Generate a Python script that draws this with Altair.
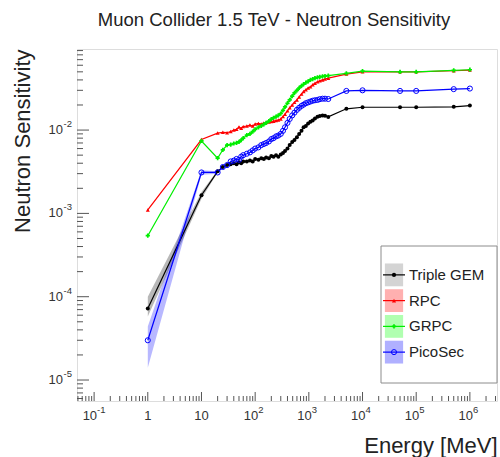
import altair as alt
import pandas as pd

# ---------------- data ----------------
SERIES = ["Triple GEM", "RPC", "GRPC", "PicoSec"]
COLORS = ["#000000", "#ff0000", "#00ee00", "#0000ff"]
SWATCH = ["#d4d4d4", "#ffb0b0", "#b0ffb0", "#b0b0ff"]

ENERGY = [1, 10, 20, 25, 30, 35, 40, 45, 50, 55,
          60, 70, 80, 90, 100, 115, 130, 145, 160, 180,
          200, 220, 245, 270, 300, 330, 360, 400, 440, 490,
          540, 600, 660, 730, 800, 880, 970, 1070, 1180, 1300,
          1450, 1600, 1800, 2000, 2300, 5000, 1e4, 5e4, 1e5, 5e5,
          1e6]

GEM = [7.2e-5, 1.65e-3, 3.2e-3, 3.6e-3, 3.8e-3, 3.9e-3, 4.0e-3, 3.9e-3, 4.1e-3, 4.0e-3,
       4.2e-3, 4.2e-3, 4.3e-3, 4.2e-3, 4.5e-3, 4.4e-3, 4.6e-3, 4.5e-3, 4.7e-3, 4.6e-3,
       4.9e-3, 4.8e-3, 5.0e-3, 4.8e-3, 5.1e-3, 5.3e-3, 5.6e-3, 6.0e-3, 6.6e-3, 7.2e-3,
       7.6e-3, 8.2e-3, 9.0e-3, 9.8e-3, 1.08e-2, 1.12e-2, 1.2e-2, 1.26e-2, 1.3e-2, 1.38e-2,
       1.45e-2, 1.48e-2, 1.5e-2, 1.49e-2, 1.44e-2, 1.8e-2, 1.88e-2, 1.88e-2, 1.88e-2, 1.9e-2,
       1.97e-2]

RPC = [1.1e-3, 7.7e-3, 9.2e-3, 9.4e-3, 9.3e-3, 9.6e-3, 1.0e-2, 1.02e-2, 1.09e-2, 1.05e-2,
       1.1e-2, 1.12e-2, 1.15e-2, 1.12e-2, 1.18e-2, 1.2e-2, 1.18e-2, 1.22e-2, 1.23e-2, 1.25e-2,
       1.27e-2, 1.28e-2, 1.3e-2, 1.32e-2, 1.36e-2, 1.45e-2, 1.55e-2, 1.7e-2, 1.85e-2, 2.0e-2,
       2.15e-2, 2.3e-2, 2.5e-2, 2.7e-2, 2.9e-2, 3.05e-2, 3.2e-2, 3.3e-2, 3.5e-2, 3.65e-2,
       3.8e-2, 3.9e-2, 4.0e-2, 4.1e-2, 4.2e-2, 4.7e-2, 5.0e-2, 5.0e-2, 5.0e-2, 5.15e-2,
       5.25e-2]

GRPC = [5.4e-4, 7.4e-3, 4.6e-3, 5.8e-3, 6.6e-3, 6.7e-3, 6.9e-3, 7.0e-3, 7.2e-3, 7.6e-3,
        8.0e-3, 8.7e-3, 9.0e-3, 9.6e-3, 1.02e-2, 1.08e-2, 1.12e-2, 1.17e-2, 1.22e-2, 1.28e-2,
        1.35e-2, 1.4e-2, 1.45e-2, 1.5e-2, 1.58e-2, 1.72e-2, 1.9e-2, 2.1e-2, 2.3e-2, 2.55e-2,
        2.8e-2, 3.0e-2, 3.2e-2, 3.4e-2, 3.55e-2, 3.7e-2, 3.85e-2, 4.0e-2, 4.1e-2, 4.2e-2,
        4.3e-2, 4.35e-2, 4.4e-2, 4.45e-2, 4.5e-2, 4.8e-2, 5.1e-2, 5.0e-2, 5.0e-2, 5.2e-2,
        5.3e-2]

PICO = [3.0e-5, 3.1e-3, 3.1e-3, 3.6e-3, 3.8e-3, 4.2e-3, 4.3e-3, 4.5e-3, 4.4e-3, 4.8e-3,
        5.0e-3, 5.2e-3, 5.4e-3, 5.7e-3, 6.0e-3, 6.2e-3, 6.6e-3, 6.8e-3, 7.0e-3, 7.3e-3,
        7.8e-3, 8.0e-3, 8.4e-3, 8.6e-3, 9.0e-3, 9.8e-3, 1.08e-2, 1.22e-2, 1.36e-2, 1.5e-2,
        1.62e-2, 1.75e-2, 1.85e-2, 1.95e-2, 2.02e-2, 2.1e-2, 2.15e-2, 2.2e-2, 2.25e-2, 2.28e-2,
        2.3e-2, 2.35e-2, 2.38e-2, 2.38e-2, 2.36e-2, 2.95e-2, 3.0e-2, 2.95e-2, 2.95e-2, 3.1e-2,
        3.15e-2]

# uncertainty bands (visible only at low energy)
BAND_E = [1, 10, 20]
GEM_LO = [5.8e-5, 1.5e-3, 3.1e-3]
GEM_HI = [1.0e-4, 1.8e-3, 3.3e-3]
PICO_LO = [1.4e-5, 2.9e-3, 3.0e-3]
PICO_HI = [4.4e-5, 3.3e-3, 3.2e-3]

X_TICKS = [0.1, 1, 10, 100, 1e3, 1e4, 1e5, 1e6]
X_BASE = ["10", "1", "10", "10", "10", "10", "10", "10"]
X_EXP = ["-1", "", "", "2", "3", "4", "5", "6"]
Y_TICKS = [1e-5, 1e-4, 1e-3, 1e-2]
Y_BASE = ["10", "10", "10", "10"]
Y_EXP = ["-5", "-4", "-3", "-2"]
X_DOMAIN = [0.048, 3.2e6]
Y_DOMAIN = [5.6e-6, 0.094]

# ---------------- tables ----------------
rows = []
for name, vals in zip(SERIES, [GEM, RPC, GRPC, PICO]):
    for e, s in zip(ENERGY, vals):
        rows.append({"series": name, "E": e, "S": s})
df = pd.DataFrame(rows)

band_rows = []
for name, lo, hi in [("Triple GEM", GEM_LO, GEM_HI), ("PicoSec", PICO_LO, PICO_HI)]:
    for e, l, h in zip(BAND_E, lo, hi):
        band_rows.append({"series": name, "E": e, "lo": l, "hi": h})
band = pd.DataFrame(band_rows)

minor_x = [m * 10 ** d for d in range(-2, 7) for m in range(2, 10)
           if X_DOMAIN[0] <= m * 10 ** d <= X_DOMAIN[1]]
minor_y = [m * 10 ** d for d in range(-6, -1) for m in range(2, 10)
           if Y_DOMAIN[0] <= m * 10 ** d <= Y_DOMAIN[1]]

W, H = 420, 352
FONT = "Liberation Sans"
LAB = "#333333"

xs = alt.Scale(type="log", domain=X_DOMAIN, nice=False)
ys = alt.Scale(type="log", domain=Y_DOMAIN, nice=False)
cs = alt.Scale(domain=SERIES, range=COLORS)

x_axis = alt.Axis(values=X_TICKS, ticks=False, domain=False, grid=False, labels=False,
                  title="Energy [MeV]", titleFont=FONT, titleFontSize=22,
                  titleFontWeight="normal", titleColor="#222",
                  titleX=W, titleY=51, titleAlign="right", titleBaseline="alphabetic")
y_axis = alt.Axis(values=Y_TICKS, ticks=False, domain=False, grid=False, labels=False,
                  title="Neutron Sensitivity", titleFont=FONT, titleFontSize=22,
                  titleFontWeight="normal", titleColor="#222", titleAngle=270,
                  titleX=-55, titleY=0, titleAlign="right", titleBaseline="middle")

base = alt.Chart(df)

bands = alt.Chart(band).mark_area(opacity=0.28, interpolate="linear").encode(
    x=alt.X("E:Q", scale=xs, axis=x_axis),
    y=alt.Y("lo:Q", scale=ys, axis=y_axis),
    y2="hi:Q",
    fill=alt.Fill("series:N", scale=cs, legend=None),
    detail="series:N",
)

lines = base.mark_line(strokeWidth=1.2).encode(
    x=alt.X("E:Q", scale=xs),
    y=alt.Y("S:Q", scale=ys),
    color=alt.Color("series:N", scale=cs, legend=None),
    detail="series:N",
    order="E:Q",
)

def pts(name, shape, color, filled, size):
    return base.transform_filter(alt.datum.series == name).mark_point(
        shape=shape, filled=filled, size=size, color=color, strokeWidth=1, opacity=1
    ).encode(x=alt.X("E:Q", scale=xs), y=alt.Y("S:Q", scale=ys))

points = [
    pts("Triple GEM", "circle", "#000000", True, 16),
    pts("RPC", "triangle-up", "#ff0000", True, 16),
    pts("GRPC", "cross", "#00ee00", True, 18),
    pts("PicoSec", "circle", "#0000ff", False, 26),
]

# inward ticks (ROOT style)
xmaj = alt.Chart(pd.DataFrame({"v": X_TICKS})).mark_rule(color="#555", strokeWidth=1).encode(
    x=alt.X("v:Q", scale=xs), y=alt.value(H), y2=alt.value(H - 9))
xmin = alt.Chart(pd.DataFrame({"v": minor_x})).mark_rule(color="#555", strokeWidth=1).encode(
    x=alt.X("v:Q", scale=xs), y=alt.value(H), y2=alt.value(H - 5))
ymaj = alt.Chart(pd.DataFrame({"v": Y_TICKS})).mark_rule(color="#555", strokeWidth=1).encode(
    y=alt.Y("v:Q", scale=ys), x=alt.value(0), x2=alt.value(12))
ymin = alt.Chart(pd.DataFrame({"v": minor_y})).mark_rule(color="#555", strokeWidth=1).encode(
    y=alt.Y("v:Q", scale=ys), x=alt.value(0), x2=alt.value(6))

# tick labels with real superscripts
xl = pd.DataFrame({"v": X_TICKS, "base": X_BASE, "exp": X_EXP})
yl = pd.DataFrame({"v": Y_TICKS, "base": Y_BASE, "exp": Y_EXP})
xl_plain = alt.Chart(xl).transform_filter("datum.exp == ''").mark_text(
    align="center", baseline="middle", font=FONT, fontSize=13, color=LAB).encode(
    x=alt.X("v:Q", scale=xs), y=alt.value(H + 15), text="base:N")
xl_base = alt.Chart(xl).transform_filter("datum.exp != ''").mark_text(
    align="right", baseline="middle", font=FONT, fontSize=13, color=LAB, dx=3).encode(
    x=alt.X("v:Q", scale=xs), y=alt.value(H + 15), text="base:N")
xl_exp = alt.Chart(xl).transform_filter("datum.exp != ''").mark_text(
    align="left", baseline="middle", font=FONT, fontSize=9.5, color=LAB, dx=3, dy=-6).encode(
    x=alt.X("v:Q", scale=xs), y=alt.value(H + 15), text="exp:N")
yl_base = alt.Chart(yl).mark_text(
    align="right", baseline="middle", font=FONT, fontSize=13, color=LAB).encode(
    y=alt.Y("v:Q", scale=ys), x=alt.value(-14), text="base:N")
yl_exp = alt.Chart(yl).mark_text(
    align="right", baseline="middle", font=FONT, fontSize=9.5, color=LAB, dy=-6).encode(
    y=alt.Y("v:Q", scale=ys), x=alt.value(-5), text="exp:N")

data_layer = alt.layer(bands, lines, *points, xmaj, xmin, ymaj, ymin,
                       xl_plain, xl_base, xl_exp, yl_base, yl_exp)

# ---------------- legend ----------------
leg = pd.DataFrame({"series": SERIES, "swatch": SWATCH, "color": COLORS})
ly = alt.Y("series:N", scale=alt.Scale(domain=SERIES, range=[213, 316]), axis=None)

box = alt.Chart(pd.DataFrame({"a": [0]})).mark_rect(
    fill="white", stroke="#8c8c8c", strokeWidth=1).encode(
    x=alt.value(304), x2=alt.value(420), y=alt.value(197), y2=alt.value(334))
sw = alt.Chart(leg).mark_point(shape="M-0.8,-1H0.8V1H-0.8Z", filled=True, size=520, opacity=1).encode(
    x=alt.value(317), y=ly, fill=alt.Fill("swatch:N", scale=None))
seg = alt.Chart(leg).mark_rule(strokeWidth=1.2).encode(
    x=alt.value(306), x2=alt.value(328), y=ly, color=alt.Color("color:N", scale=None))
lm_filled = alt.Chart(leg).transform_filter(alt.datum.series != "PicoSec").mark_point(
    filled=True, size=18, opacity=1).encode(
    x=alt.value(317), y=ly, color=alt.Color("color:N", scale=None),
    shape=alt.Shape("series:N", scale=alt.Scale(domain=SERIES[:3], range=["circle", "triangle-up", "cross"]), legend=None))
lm_open = alt.Chart(leg).transform_filter(alt.datum.series == "PicoSec").mark_point(
    filled=False, size=26, opacity=1, shape="circle", strokeWidth=1).encode(
    x=alt.value(317), y=ly, color=alt.Color("color:N", scale=None))
txt = alt.Chart(leg).mark_text(align="left", baseline="middle", font=FONT, fontSize=15, color="#222").encode(
    x=alt.value(332), y=ly, text="series:N")

legend_layer = alt.layer(box, sw, seg, lm_filled, lm_open, txt)

chart = alt.layer(data_layer, legend_layer).resolve_scale(
    y="independent", x="independent", color="independent", shape="independent", fill="independent"
).properties(
    width=W, height=H,
    title=alt.TitleParams("Muon Collider 1.5 TeV - Neutron Sensitivity", font=FONT, fontSize=18.5,
                          fontWeight="normal", color="#222", anchor="middle", dx=-13, offset=20),
    autosize=alt.AutoSizeParams(type="none"),
    padding={"left": 77, "top": 49, "right": 3, "bottom": 56},
).configure_view(stroke="#8c8c8c", strokeWidth=1.5).configure(background="white")

chart.save("out.html", embed_options={"renderer": "svg", "actions": False})
